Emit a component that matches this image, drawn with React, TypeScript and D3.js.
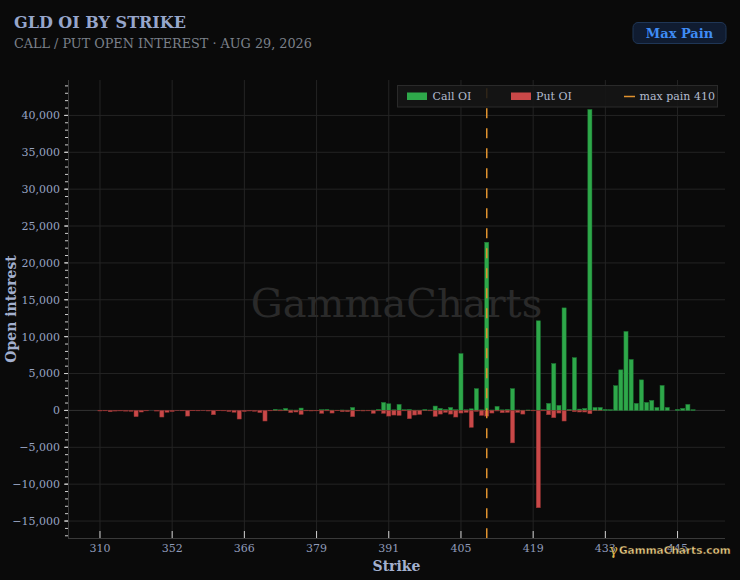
import { useEffect, useRef } from "react";
import * as d3 from "d3";

// strikes in display order (band axis, labelled every 14th)
const strikes = [
  310, 315, 320, 325, 330, 335, 338, 340, 342, 344, 345, 347, 348, 350, 352,
  353, 354, 355, 356, 357, 358, 359, 360, 361, 362, 363, 364, 365, 366,
  367, 368, 369, 370, 371, 372, 372.5, 373, 374, 375, 376, 377, 378, 379,
  380, 381, 382, 382.5, 383, 384, 385, 386, 387, 387.5, 388, 389, 390, 391,
  392, 393, 394, 395, 396, 397, 398, 399, 400, 401, 402, 403, 404, 405,
  406, 407, 408, 409, 410, 411, 412, 413, 414, 415, 416, 417, 418, 419,
  420, 421, 422, 423, 424, 425, 426, 427, 428, 429, 430, 431, 432, 433,
  434, 435, 436, 437, 437.5, 438, 439, 440, 441, 442, 442.5, 443, 444, 445,
  446, 447, 448,
];

const callOI = [
  0, 0, 0, 0, 0, 0, 0, 0, 0, 0, 0, 0, 0, 0, 0,
  0, 0, 0, 0, 0, 0, 0, 0, 0, 0, 0, 0, 0, 0,
  0, 0, 0, 0, 0, 150, 80, 270, 60, 50, 320, 30, 20, 20,
  100, 130, 40, 30, 60, 40, 400, 20, 30, 30, 40, 130, 1080, 900,
  80, 810, 90, 130, 40, 40, 130, 60, 590, 270, 130, 400, 100, 7700,
  90, 220, 2950, 80, 22800, 60, 540, 80, 130, 2950, 60, 30, 60, 40,
  12150, 90, 950, 6350, 680, 13900, 130, 7150, 180, 270, 40800, 400, 400, 130,
  100, 3350, 5500, 10700, 6900, 950, 4140, 1080, 1350, 400, 3380, 400, 0, 130,
  270, 810, 90,
];

const putOI = [
  80, 60, 180, 90, 70, 100, 120, 850, 220, 60, 0, 90, 900, 250, 150,
  40, 60, 770, 50, 60, 40, 80, 590, 50, 60, 150, 250, 1170, 150,
  80, 120, 300, 1440, 60, 40, 60, 40, 300, 220, 540, 60, 80, 60,
  400, 60, 360, 50, 180, 180, 850, 60, 80, 60, 400, 60, 400, 770,
  630, 680, 60, 1130, 630, 540, 40, 60, 810, 500, 270, 500, 900, 360,
  270, 2300, 130, 680, 770, 360, 80, 320, 270, 4400, 270, 500, 40, 60,
  13200, 60, 590, 990, 360, 1440, 40, 180, 220, 220, 450, 30, 20, 0,
  0, 0, 0, 0, 0, 0, 0, 0, 0, 0, 0, 0, 0, 0,
  0, 0, 0,
];

const maxPain = 410;
const yDomain = [-17300, 44800];
const yMajor = [-15000, -10000, -5000, 0, 5000, 10000, 15000, 20000, 25000, 30000, 35000, 40000];

const W = 740;
const H = 580;
const FONT = "'DejaVu Serif', serif";

export default function App() {
  const svgRef = useRef<SVGSVGElement | null>(null);

  useEffect(() => {
    const svg = d3.select(svgRef.current);
    svg.selectAll("*").remove();

    const margin = { top: 80, right: 15, bottom: 42, left: 68 };
    const x0 = margin.left;
    const x1 = W - margin.right;
    const y0 = H - margin.bottom;
    const y1 = margin.top;

    svg.append("rect").attr("width", W).attr("height", H).attr("fill", "#0a0a0a");

    const x = d3
      .scaleBand<string>()
      .domain(strikes.map(String))
      .range([x0, x1])
      .paddingInner(0.2)
      .paddingOuter(5.8);
    const y = d3.scaleLinear().domain(yDomain).range([y0, y1]);
    const bw = x.bandwidth();
    const xTicks = strikes.filter((_, i) => i % 14 === 0).map(String);

    // grid
    const grid = svg.append("g");
    grid
      .selectAll("line.v")
      .data(xTicks)
      .enter()
      .append("line")
      .attr("x1", (d) => x(d)! + bw / 2)
      .attr("x2", (d) => x(d)! + bw / 2)
      .attr("y1", y1)
      .attr("y2", y0)
      .attr("stroke", "#242424");
    grid
      .selectAll("line.h")
      .data(yMajor)
      .enter()
      .append("line")
      .attr("x1", x0)
      .attr("x2", x1)
      .attr("y1", (d) => y(d))
      .attr("y2", (d) => y(d))
      .attr("stroke", (d) => (d === 0 ? "#333" : "#242424"));

    // watermark
    svg
      .append("text")
      .attr("x", (x0 + x1) / 2)
      .attr("y", 317)
      .attr("text-anchor", "middle")
      .attr("font-family", FONT)
      .attr("font-size", 40)
      .attr("fill", "#2a2a2a")
      .text("GammaCharts");

    // bars
    const idx = d3.range(strikes.length);
    svg
      .append("g")
      .selectAll("rect")
      .data(idx.filter((i) => callOI[i] > 0))
      .enter()
      .append("rect")
      .attr("x", (i) => x(String(strikes[i]))!)
      .attr("width", bw)
      .attr("y", (i) => y(callOI[i]))
      .attr("height", (i) => y(0) - y(callOI[i]))
      .attr("fill", "#2ea84a")
      .attr("stroke", "#1d7a34")
      .attr("stroke-width", 0.5);
    svg
      .append("g")
      .selectAll("rect")
      .data(idx.filter((i) => putOI[i] > 0))
      .enter()
      .append("rect")
      .attr("x", (i) => x(String(strikes[i]))!)
      .attr("width", bw)
      .attr("y", y(0))
      .attr("height", (i) => y(-putOI[i]) - y(0))
      .attr("fill", "#c94848")
      .attr("stroke", "#8e3030")
      .attr("stroke-width", 0.5);

    // max pain line
    const mx = x(String(maxPain))! + bw / 2;
    svg
      .append("line")
      .attr("x1", mx)
      .attr("x2", mx)
      .attr("y1", y1)
      .attr("y2", y0)
      .attr("stroke", "#e0922f")
      .attr("stroke-width", 1.5)
      .attr("stroke-dasharray", "10 10")
      .attr("stroke-dashoffset", 11.7);

    // axes
    const yAxis = svg.append("g").attr("transform", `translate(${x0},0)`);
    yAxis
      .selectAll("line.minor")
      .data(d3.range(-17000, 45000, 1000))
      .enter()
      .append("line")
      .attr("x1", -3)
      .attr("x2", 0)
      .attr("y1", (d) => y(d))
      .attr("y2", (d) => y(d))
      .attr("stroke", "#d0d0d0");
    yAxis
      .selectAll("line.major")
      .data(yMajor)
      .enter()
      .append("line")
      .attr("x1", -4)
      .attr("x2", 0)
      .attr("y1", (d) => y(d))
      .attr("y2", (d) => y(d))
      .attr("stroke", "#d0d0d0");
    yAxis
      .selectAll("text")
      .data(yMajor)
      .enter()
      .append("text")
      .attr("x", -8)
      .attr("y", (d) => y(d))
      .attr("dy", "0.35em")
      .attr("text-anchor", "end")
      .attr("font-family", FONT)
      .attr("font-size", 11)
      .attr("fill", "#97a3c2")
      .text((d) => d3.format(",")(d));
    yAxis
      .append("line")
      .attr("x1", 0.5)
      .attr("x2", 0.5)
      .attr("y1", y1)
      .attr("y2", y0)
      .attr("stroke", "#3a3a3a");

    const xAxis = svg.append("g").attr("transform", `translate(0,${y0})`);
    xAxis
      .append("line")
      .attr("x1", x0)
      .attr("x2", x1)
      .attr("y1", 0.5)
      .attr("y2", 0.5)
      .attr("stroke", "#3a3a3a");
    xAxis
      .selectAll("line.t")
      .data(xTicks)
      .enter()
      .append("line")
      .attr("x1", (d) => x(d)! + bw / 2)
      .attr("x2", (d) => x(d)! + bw / 2)
      .attr("y1", -7)
      .attr("y2", 0)
      .attr("stroke", "#d0d0d0");
    xAxis
      .selectAll("text")
      .data(xTicks)
      .enter()
      .append("text")
      .attr("x", (d) => x(d)! + bw / 2)
      .attr("y", 14)
      .attr("text-anchor", "middle")
      .attr("font-family", FONT)
      .attr("font-size", 11)
      .attr("fill", "#8f9bb9")
      .text((d) => d);

    svg
      .append("text")
      .attr("x", (x0 + x1) / 2)
      .attr("y", 571)
      .attr("text-anchor", "middle")
      .attr("font-family", FONT)
      .attr("font-weight", "bold")
      .attr("font-size", 14)
      .attr("fill", "#a3b0cf")
      .text("Strike");
    svg
      .append("text")
      .attr("transform", `translate(16,${(y0 + y1) / 2}) rotate(-90)`)
      .attr("text-anchor", "middle")
      .attr("font-family", FONT)
      .attr("font-weight", "bold")
      .attr("font-size", 14)
      .attr("fill", "#a3b0cf")
      .text("Open interest");

    // titles
    svg
      .append("text")
      .attr("x", 14)
      .attr("y", 28)
      .attr("font-family", FONT)
      .attr("font-weight", "bold")
      .attr("font-size", 16)
      .attr("fill", "#97a6cb")
      .text("GLD OI BY STRIKE");
    svg
      .append("text")
      .attr("x", 14)
      .attr("y", 48)
      .attr("font-family", FONT)
      .attr("font-size", 12.8)
      .attr("fill", "#7c818b")
      .text("CALL / PUT OPEN INTEREST · AUG 29, 2026");

    // max pain button
    svg
      .append("rect")
      .attr("x", 633)
      .attr("y", 22.5)
      .attr("width", 93)
      .attr("height", 21)
      .attr("rx", 5)
      .attr("fill", "#101c31")
      .attr("stroke", "#1f3656");
    svg
      .append("text")
      .attr("x", 679.5)
      .attr("y", 38)
      .attr("text-anchor", "middle")
      .attr("font-family", FONT)
      .attr("font-weight", "bold")
      .attr("font-size", 13)
      .attr("fill", "#3f8cf5")
      .text("Max Pain");

    // legend
    const lg = svg.append("g");
    lg.append("rect")
      .attr("x", 397.5)
      .attr("y", 85.5)
      .attr("width", 320)
      .attr("height", 21.5)
      .attr("fill", "rgba(22,22,22,0.88)")
      .attr("stroke", "#2a2a2a");
    lg.append("rect").attr("x", 407).attr("y", 92.5).attr("width", 20).attr("height", 7.5).attr("fill", "#2ea84a");
    lg.append("rect").attr("x", 511).attr("y", 92.5).attr("width", 20).attr("height", 7.5).attr("fill", "#c94848");
    lg.append("line")
      .attr("x1", 624)
      .attr("x2", 635)
      .attr("y1", 96.5)
      .attr("y2", 96.5)
      .attr("stroke", "#e0922f")
      .attr("stroke-width", 1.5);
    const legendItems: [number, string][] = [
      [432.5, "Call OI"],
      [536, "Put OI"],
      [639.5, `max pain ${maxPain}`],
    ];
    lg.selectAll("text")
      .data(legendItems)
      .enter()
      .append("text")
      .attr("x", (d) => d[0])
      .attr("y", 100)
      .attr("font-family", FONT)
      .attr("font-size", 11)
      .attr("fill", "#b3bccf")
      .text((d) => d[1]);

    // brand
    svg
      .append("text")
      .attr("x", 609)
      .attr("y", 555)
      .attr("font-family", FONT)
      .attr("font-size", 15)
      .attr("fill", "#d8b24a")
      .text("γ");
    svg
      .append("text")
      .attr("x", 619)
      .attr("y", 554)
      .attr("font-family", "'DejaVu Sans', sans-serif")
      .attr("font-weight", "bold")
      .attr("font-size", 10.5)
      .attr("fill", "#ecd08a")
      .attr("stroke", "#1a1408")
      .attr("stroke-width", 0.4)
      .text("GammaCharts.com");
  }, []);

  return (
    <svg
      ref={svgRef}
      width={W}
      height={H}
      style={{ position: "absolute", left: 0, top: 0, display: "block" }}
    />
  );
}
